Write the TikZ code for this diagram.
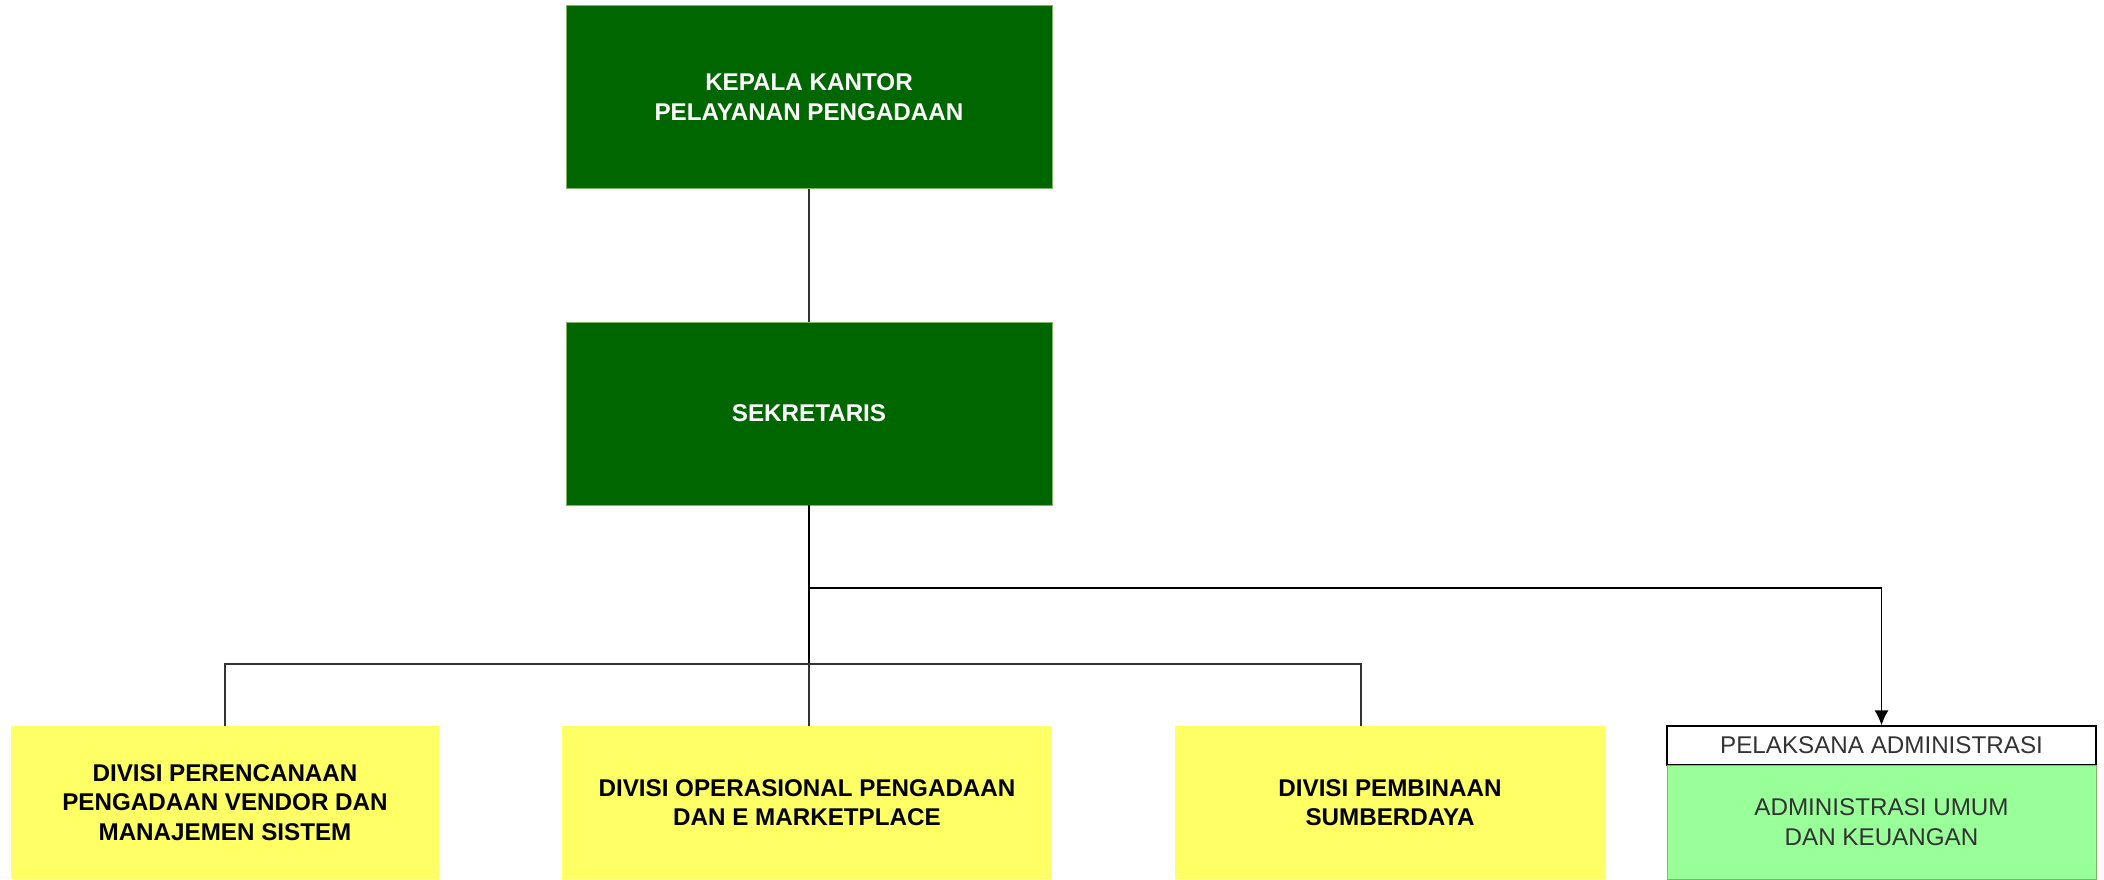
\documentclass[tikz,border=0pt]{standalone}
\usepackage{fontspec}
\setmainfont{Liberation Sans}
\usetikzlibrary{arrows.meta}

\definecolor{headgreen}{HTML}{006600}
\definecolor{divyellow}{HTML}{FFFF66}
\definecolor{admgreen}{HTML}{99FF99}
\definecolor{edgegreen}{HTML}{82B366}
\definecolor{linegray}{HTML}{333333}

\begin{document}
\begin{tikzpicture}[x = 1pt, y = -1pt, > = {Latex[length = 15pt, width = 14pt]},
	headbox/.style = {draw = edgegreen, fill = headgreen, text = white, font = \fontsize{24.2}{29.5}\selectfont\bfseries,
		align = center, minimum width = 486pt, minimum height = 183pt, inner sep = 0pt},
	divbox/.style = {fill = divyellow, font = \fontsize{24.2}{29.5}\selectfont\bfseries,
		align = center, minimum height = 153pt, inner sep = 0pt},
	admbox/.style = {text = linegray, font = \fontsize{24.2}{29.5}\selectfont,
		align = center, minimum width = 429pt, inner sep = 0pt},
	link/.style = {draw = linegray, line width = 1.4pt}]

	\useasboundingbox (0, 0) rectangle (2104, 879);

	% Head and secretary

	\node [headbox] (kepala) at (809, 97) {KEPALA KANTOR\\PELAYANAN PENGADAAN};
	\node [headbox] (sekretaris) at (809, 413.5) {SEKRETARIS};

	% Divisions

	\node [divbox, minimum width = 428pt] (perencanaan) at (225, 802.5) {DIVISI PERENCANAAN\\PENGADAAN VENDOR DAN\\MANAJEMEN SISTEM};
	\node [divbox, minimum width = 490pt] (operasional) at (807, 802.5) {DIVISI OPERASIONAL PENGADAAN\\DAN E MARKETPLACE};
	\node [divbox, minimum width = 430pt] (pembinaan) at (1390, 802.5) {DIVISI PEMBINAAN\\SUMBERDAYA};

	% Administration

	\node [admbox, draw = black, fill = white, line width = 1.4pt, minimum height = 39pt] (pelaksana) at (1881.5, 745.5) {PELAKSANA ADMINISTRASI};
	\node [admbox, draw = edgegreen, fill = admgreen, minimum height = 114pt] (administrasi) at (1881.5, 822) {ADMINISTRASI UMUM\\DAN KEUANGAN};

	% Connectors

	\coordinate (admbus) at (809, 588);
	\coordinate (divleft) at (225, 664);
	\coordinate (divright) at (1361, 664);

	\draw [link] (kepala.south) -- (sekretaris.north);
	\draw [link, line width = 2.4pt, draw = black] (sekretaris.south) -- (admbus);
	\draw [link, ->, draw = black] (admbus) -| (pelaksana.north);
	\draw [link, line width = 2.4pt, draw = black] (admbus) -- (admbus |- divleft);
	\draw [link] (perencanaan.north) -- (divleft) -- (divright) -- (divright |- pembinaan.north);
	\draw [link] (admbus |- divleft) -- (admbus |- operasional.north);

\end{tikzpicture}
\end{document}
